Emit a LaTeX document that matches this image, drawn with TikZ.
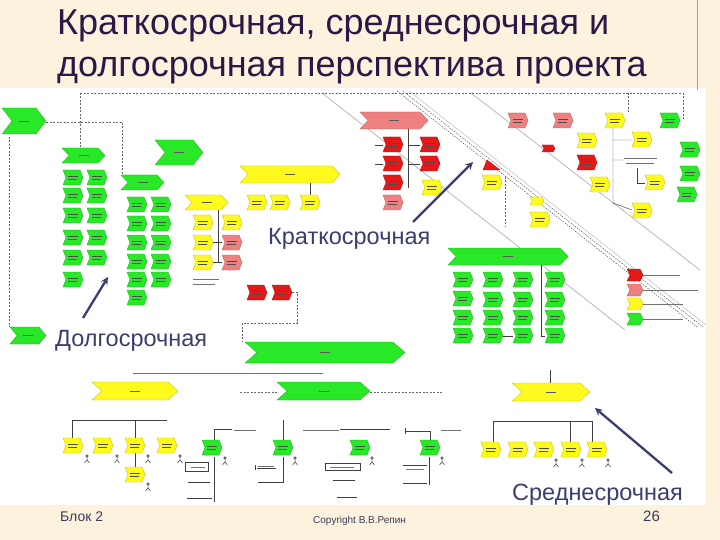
\documentclass[tikz,border=0pt]{standalone}
\usepackage{fontspec}
\setmainfont{Liberation Sans}
\usepackage{tikz}
\definecolor{slidebg}{RGB}{252,242,221}
\definecolor{titleink}{RGB}{44,24,70}
\definecolor{labelink}{RGB}{58,62,110}
\definecolor{footink}{RGB}{60,60,90}
\definecolor{fgreen}{RGB}{40,232,40}
\definecolor{fyellow}{RGB}{255,250,30}
\definecolor{fred}{RGB}{228,24,24}
\definecolor{fpink}{RGB}{238,128,128}
\newcommand{\procbox}[6]{%
  \filldraw[draw=#6!75!black,fill=#6,line width=0.3pt] (#1,#2) -- ({#1+#3-#5},#2) -- ({#1+#3},{#2+#4/2}) -- ({#1+#3-#5},{#2+#4}) -- (#1,{#2+#4}) -- ({#1+#5},{#2+#4/2}) -- cycle;}
\newcommand{\chevron}[6]{%
  \procbox{#1}{#2}{#3}{#4}{#5}{#6}
  \draw[black!65,line width=0.45pt] ({#1+#3/2-5},{#2+#4/2}) -- ({#1+#3/2+5},{#2+#4/2});}
\newcommand{\evbox}[3]{%
  \procbox{#1}{#2}{20}{15}{3}{#3}
  \draw[black!70,line width=0.5pt] ({#1+5},{#2+6}) -- ({#1+15},{#2+6}) ({#1+5},{#2+9.5}) -- ({#1+14},{#2+9.5});}
\newcommand{\actor}[2]{%
  \draw[black!80,line width=0.5pt] (#1,#2) circle (1.3pt) (#1,{#2+1.3}) -- (#1,{#2+4}) ({#1-2.5},{#2+7}) -- (#1,{#2+4}) -- ({#1+2.5},{#2+7});}
\newcommand{\txtmark}[3]{\draw[black!55,line width=0.6pt] (#1,#2) -- ({#1+#3},#2);}

\begin{document}
\begin{tikzpicture}[x=1pt,y=-1pt,
  dashline/.style={black!60,dash pattern=on 2pt off 1.5pt,line width=0.4pt},
  conn/.style={black!75,line width=0.45pt},
  diagline/.style={black!30,line width=0.7pt},
  bandline/.style={black!75,dash pattern=on 1.5pt off 1.2pt,line width=0.4pt},
  termarrow/.style={labelink,line width=2.3pt,-stealth},
  termlabel/.style={text=labelink,font=\fontsize{23.5}{24}\selectfont,inner sep=0pt,anchor=base west}]
\useasboundingbox (0,0) rectangle (720,540);
\fill[slidebg] (0,0) rectangle (720,540);
\fill[white] (0,88) rectangle (706,505);
\draw[labelink!50,line width=0.6pt] (697,0) -- (697,90);

\node[anchor=base west,inner sep=0pt,text=titleink,font=\fontsize{36}{36}\selectfont] (titleone) at (57,35) {Краткосрочная, среднесрочная и};
\node[anchor=base west,inner sep=0pt,text=titleink,font=\fontsize{36}{36}\selectfont] (titletwo) at (57,77) {долгосрочная перспектива проекта};

% diagonal separators
\draw[diagline] (322,93) -- (625,330);
\draw[diagline] (471,93) -- (700,270);
\draw[bandline] (397,91) -- (697,327);
\draw[bandline] (403,91) -- (703,327);
\draw[diagline,black!20] (409,91) -- (706,325);

% upper left
\draw[dashline] (80,93) -- (682,93);
\draw[dashline] (80,93) -- (80,148);
\draw[dashline] (46,122) -- (122,122) -- (122,175);
\draw[dashline] (9,137) -- (9,327);
\draw[dashline] (628,93) -- (628,112) (683,93) -- (683,120);
\chevron{2}{108}{44}{26}{10}{fgreen}
\chevron{62}{148}{43}{15}{7}{fgreen}
\chevron{155}{140}{48}{25}{10}{fgreen}
\chevron{121}{175}{43}{15}{7}{fgreen}
\chevron{185}{195}{43}{15}{7}{fyellow}
\chevron{10}{327}{36}{17}{7}{fgreen}
\foreach \yy in {170,188,208,230,250,272} {\evbox{63}{\yy}{fgreen}}
\foreach \yy in {170,188,208,230,250} {\evbox{87}{\yy}{fgreen}}
\foreach \yy in {197,216,235,254,272,290} {\evbox{127}{\yy}{fgreen}}
\foreach \yy in {197,216,235,254,272} {\evbox{151}{\yy}{fgreen}}
\foreach \yy in {215,235,255} {\evbox{193}{\yy}{fyellow}}
\evbox{222}{215}{fyellow}
\evbox{222}{235}{fpink}
\evbox{222}{255}{fpink}
\draw[conn] (218,210) -- (218,262) (213,242) -- (222,242) (213,262) -- (222,262);
\txtmark{193}{279}{26}
\txtmark{193}{284}{22}

% short term block
\chevron{240}{166}{100}{17}{8}{fyellow}
\draw[conn] (310,183) -- (310,195);
\foreach \xx in {247,270,300} {\evbox{\xx}{195}{fyellow}}
\evbox{247}{285}{fred}
\evbox{272}{285}{fred}
\draw[dashline] (292,292) -- (297,292) -- (297,323) -- (242,323) -- (242,342);
\chevron{360}{112}{68}{17}{8}{fpink}
\foreach \yy in {137,156,175} {\evbox{383}{\yy}{fred}}
\evbox{383}{195}{fpink}
\evbox{420}{137}{fred}
\evbox{420}{156}{fred}
\evbox{422}{180}{fyellow}
\draw[conn] (408,129) -- (408,188) (408,145) -- (420,145) (408,164) -- (420,164);
\draw[conn] (375,145) -- (383,145) (375,164) -- (383,164);
\filldraw[fred,draw=fred!75!black] (483,170) -- (487,160) -- (500,170) -- cycle;
\procbox{542}{145}{13}{7}{2}{fred}
\evbox{482}{175}{fyellow}
\draw[dashline] (505,177) -- (505,227);
\procbox{530}{197}{14}{8}{2}{fyellow}
\evbox{530}{212}{fyellow}

% upper right
\evbox{508}{113}{fpink}
\evbox{553}{113}{fpink}
\evbox{605}{113}{fyellow}
\evbox{660}{113}{fgreen}
\evbox{577}{133}{fyellow}
\evbox{577}{155}{fred}
\evbox{632}{132}{fyellow}
\evbox{645}{175}{fyellow}
\evbox{590}{177}{fyellow}
\evbox{632}{203}{fyellow}
\evbox{680}{142}{fgreen}
\evbox{680}{166}{fgreen}
\evbox{677}{187}{fgreen}
\draw[conn] (613,128) -- (613,203) (613,140) -- (632,140) (613,160) -- (623,160) (613,203) -- (632,210);
\draw[conn] (637,168) -- (637,183) -- (645,183);
\txtmark{624}{158}{33}
\txtmark{626}{163}{28}

% middle right
\chevron{448}{248}{120}{17}{8}{fgreen}
\foreach \xx in {483,513,545} {\foreach \yy in {272,292,310,328} {\evbox{\xx}{\yy}{fgreen}}}
\foreach \yy in {272,291,310,328} {\evbox{453}{\yy}{fgreen}}
\draw[conn] (541,265) -- (541,336) -- (545,336) (503,336) -- (513,336);
\foreach \yy/\cc/\ee in {269/fred/680,284/fpink/698,298/fyellow/683,313/fgreen/683} {
  \procbox{627}{\yy}{16}{12}{3}{\cc}
  \draw[conn,black!55] (643,{\yy+6}) -- (\ee,{\yy+6});}

% middle
\chevron{245}{342}{160}{21}{12}{fgreen}
\chevron{277}{382}{93}{18}{10}{fgreen}
\chevron{92}{382}{86}{18}{10}{fyellow}
\chevron{512}{383}{78}{18}{10}{fyellow}
\draw[conn,black!55] (133,373) -- (323,373);
\draw[dashline] (240,392) -- (277,392) (370,392) -- (443,392);
\draw[conn] (550,370) -- (550,383);

% lower left
\draw[conn] (72,438) -- (72,420) -- (167,420) (135,420) -- (135,438) (135,453) -- (135,467);
\foreach \xx in {63,93,125,157} {\evbox{\xx}{438}{fyellow}}
\evbox{125}{467}{fyellow}
\foreach \xx/\yy in {87/456,117/456,148/456,180/456,148/484} {\actor{\xx}{\yy}}
\foreach \xx in {202,273,350,420} {\evbox{\xx}{440}{fgreen}}
\foreach \xx in {225,295,372,442} {\actor{\xx}{458}}
\draw[conn] (214,429) -- (214,440) (214,457) -- (214,502) (214,429) -- (232,429);
\draw[conn] (283,420) -- (283,440) (283,457) -- (283,482) -- (258,482);
\draw[conn] (185,462) rectangle (208,471) (188,482) -- (210,482) (187,498) -- (212,498);
\draw[conn] (255,465) -- (255,470) (257,468) -- (276,468);
\draw[conn] (325,463) rectangle (360,470) (333,480) -- (355,480) (337,497) -- (357,497);
\draw[conn] (403,465) -- (427,465) (403,483) -- (427,483) (429,457) -- (429,485);
\draw[conn] (340,429) -- (390,429) (405,428) -- (405,434) (405,431) -- (430,431) (430,431) -- (430,440);
\txtmark{234}{430}{22}
\txtmark{303}{430}{36}
\txtmark{441}{430}{20}
\txtmark{191}{467}{14}
\txtmark{258}{466}{16}
\txtmark{330}{467}{24}
\txtmark{406}{469}{18}

% lower right
\draw[conn] (493,442) -- (493,421) -- (592,421) -- (592,442) (570,421) -- (570,442);
\foreach \xx in {481,508,534,561,587} {\evbox{\xx}{442}{fyellow}}
\foreach \xx in {556,582,608} {\actor{\xx}{460}}

% horizon labels
\node[termlabel] (shortlbl) at (268,244) {Краткосрочная};
\node[termlabel] (longlbl) at (55,346) {Долгосрочная};
\node[termlabel] (midlbl) at (512,500) {Среднесрочная};
\coordinate (shorttail) at (413,222);
\coordinate (shorttip) at (473,162);
\coordinate (longtail) at (83,318);
\coordinate (longtip) at (108,277);
\coordinate (midtail) at (672,473);
\coordinate (midtip) at (595,408);
\draw[termarrow] (shorttail) -- (shorttip);
\draw[termarrow] (longtail) -- (longtip);
\draw[termarrow] (midtail) -- (midtip);

\node[anchor=base west,inner sep=0pt,text=footink,font=\fontsize{14}{14}\selectfont] (blocklbl) at (60,521) {Блок 2};
\node[anchor=base west,inner sep=0pt,text=footink,font=\fontsize{10}{10}\selectfont] (copylbl) at (313,523) {Copyright В.В.Репин};
\node[anchor=base west,inner sep=0pt,text=footink,font=\fontsize{15}{15}\selectfont] (pagelbl) at (643,521) {26};
\end{tikzpicture}
\end{document}
